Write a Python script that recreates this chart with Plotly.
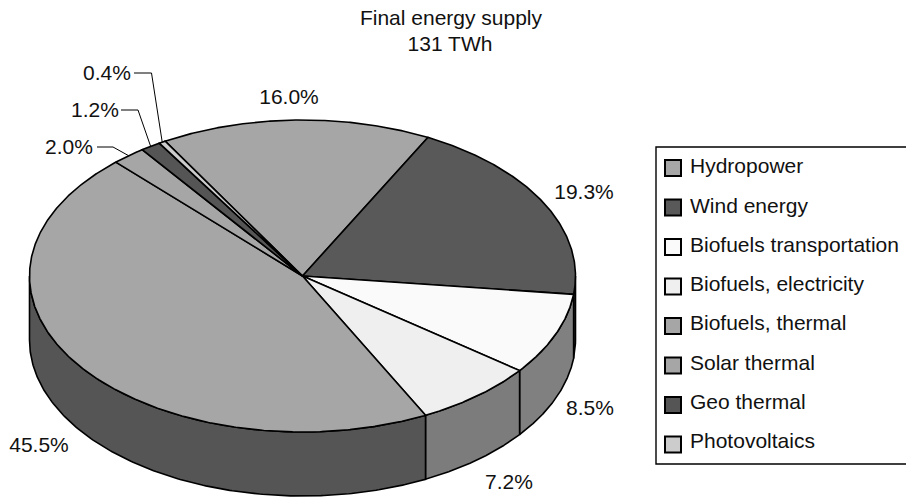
import numpy as np
import plotly.graph_objects as go

# Final energy supply shares, percent, clockwise from the hydropower slice
categories = ["Hydropower", "Wind energy", "Biofuels transportation", "Biofuels, electricity",
              "Biofuels, thermal", "Solar thermal", "Geo thermal", "Photovoltaics"]
shares = [16.0, 19.3, 8.5, 7.2, 45.5, 2.0, 1.2, 0.4]
share_labels = ["16.0%", "19.3%", "8.5%", "7.2%", "45.5%", "2.0%", "1.2%", "0.4%"]
top_colors = ["#a6a6a6", "#595959", "#fafafa", "#efefef", "#a6a6a6", "#a6a6a6", "#555555", "#cccccc"]
side_colors = ["#808080", "#555555", "#808080", "#7c7c7c", "#555555", "#808080", "#555555", "#808080"]

# Projected disc geometry on a canvas measured in pixels
CX, CY, RX, RY, DEPTH = 302.5, 276.0, 273.0, 156.0, 64.0
START_DEG = -30.2
EDGE = dict(color="#000000", width=1.6)
FONT = "Liberation Sans, Arial, sans-serif"
TEXT_SIZE = 21

# Centre of each percentage label; callouts add an elbow leading to the rim
label_xy = [(289, 98.5), (584, 193.5), (590, 409.5), (509, 483.5), (39, 446.5), (69, 148.5), (95, 111.5), (107, 74.5)]
elbows = {5: [(97, 147), (113, 147)], 6: [(121, 110), (138, 110)], 7: [(134, 73), (151.5, 73)]}

LEGEND_BOX = (656, 147, 912, 464)
LEGEND_SWATCH_X, LEGEND_TEXT_X = 673, 690
LEGEND_ROWS = np.linspace(168, 444.5, len(categories))
LEGEND_TEXT_ROWS = np.linspace(168, 443, len(categories))


def rim(deg, drop=0.0):
    """Point on the disc rim; angles run clockwise from twelve o'clock."""
    t = np.radians(deg)
    return CX + RX * np.sin(t), CY - RY * np.cos(t) + drop


fractions = np.array(shares) / sum(shares)
edges = START_DEG + 360.0 * np.concatenate([[0.0], np.cumsum(fractions)])

fig = go.Figure()


def polygon(xs, ys, fill):
    fig.add_trace(go.Scatter(x=xs, y=ys, mode="lines", fill="toself", fillcolor=fill,
                             line=EDGE, hoverinfo="skip", showlegend=False))


# Outer wall: only the part of each slice on the near half of the disc is visible
for i, (a, b) in enumerate(zip(edges[:-1], edges[1:])):
    for shift in (0, 360, -360):
        lo, hi = max(a + shift, 90.0), min(b + shift, 270.0)
        if lo < hi:
            arc = np.linspace(lo, hi, 200)
            x_top, y_top = rim(arc)
            x_low, y_low = rim(arc[::-1], DEPTH)
            polygon(np.r_[x_top, x_low, x_top[0]], np.r_[y_top, y_low, y_top[0]], side_colors[i])

# Top face
for i, (a, b) in enumerate(zip(edges[:-1], edges[1:])):
    arc = np.linspace(a, b, max(int(b - a) * 3, 6))
    x_top, y_top = rim(arc)
    polygon(np.r_[CX, x_top, CX], np.r_[CY, y_top, CY], top_colors[i])

# Callout lines for the narrow slices
for i, pts in elbows.items():
    end = rim((edges[i] + edges[i + 1]) / 2)
    fig.add_trace(go.Scatter(x=[p[0] for p in pts] + [end[0]], y=[p[1] for p in pts] + [end[1]],
                             mode="lines", line=dict(color="#000000", width=1),
                             hoverinfo="skip", showlegend=False))

# Percentage labels
fig.add_trace(go.Scatter(x=[p[0] for p in label_xy], y=[p[1] for p in label_xy], mode="text",
                         text=share_labels, textposition="middle center",
                         textfont=dict(family=FONT, size=TEXT_SIZE, color="#111111"),
                         hoverinfo="skip", showlegend=False))

# Legend panel
x0, y0, x1, y1 = LEGEND_BOX
fig.add_shape(type="rect", xref="x", yref="y", x0=x0, y0=y0, x1=x1, y1=y1,
              line=dict(color="#000000", width=1.4), fillcolor="#ffffff", layer="between")
fig.add_trace(go.Scatter(x=[LEGEND_SWATCH_X] * len(categories), y=LEGEND_ROWS, mode="markers",
                         marker=dict(symbol="square", size=16, color=top_colors,
                                     line=dict(color="#000000", width=2)),
                         hovertext=categories, hoverinfo="text", showlegend=False))
fig.add_trace(go.Scatter(x=[LEGEND_TEXT_X] * len(categories), y=LEGEND_TEXT_ROWS, mode="text",
                         text=categories, textposition="middle right",
                         textfont=dict(family=FONT, size=TEXT_SIZE, color="#111111"),
                         hoverinfo="skip", showlegend=False))

# Heading
fig.add_trace(go.Scatter(x=[451, 450], y=[19.5, 45.5], mode="text",
                         text=["Final energy supply", "131 TWh"], textposition="middle center",
                         textfont=dict(family=FONT, size=TEXT_SIZE, color="#111111"),
                         hoverinfo="skip", showlegend=False))

fig.update_layout(width=906, height=497, margin=dict(l=0, r=0, t=0, b=0),
                  paper_bgcolor="#ffffff", plot_bgcolor="#ffffff", showlegend=False,
                  xaxis=dict(range=[0, 906], visible=False, fixedrange=True),
                  yaxis=dict(range=[497, 0], visible=False, fixedrange=True))
fig.write_html("out.html", config=dict(displayModeBar=False))
